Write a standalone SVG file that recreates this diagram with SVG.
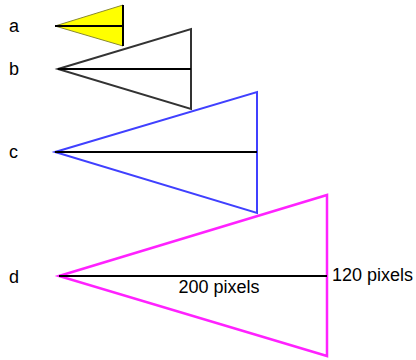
<svg xmlns="http://www.w3.org/2000/svg" width="416" height="360" viewBox="0 0 416 360">
<style>
.lbl{font-family:"Liberation Sans",Arial,sans-serif;font-size:18px;fill:#000}
.mid{stroke:#000;stroke-width:2;fill:none}
</style>
<rect width="416" height="360" fill="#fff"/>
<g id="a">
<polygon points="55,26 123,5 123,46" fill="#ffff00" stroke="#8a8a30" stroke-width="1"/>
<line x1="123" y1="5" x2="123" y2="46" class="mid"/>
<line x1="55" y1="26" x2="123" y2="26" class="mid"/>
<text x="9" y="32" class="lbl">a</text>
</g>
<g id="b">
<polygon points="58,69 191,29 191,109" fill="none" stroke="#333" stroke-width="2"/>
<line x1="58" y1="69" x2="191" y2="69" class="mid"/>
<text x="9" y="75" class="lbl">b</text>
</g>
<g id="c">
<polygon points="55,152 257,92 257,213" fill="none" stroke="#4040ff" stroke-width="2"/>
<line x1="55" y1="152" x2="257" y2="152" class="mid"/>
<text x="9" y="158" class="lbl">c</text>
</g>
<g id="d">
<polygon points="59,276 327,195 327,356" fill="none" stroke="#ff22ff" stroke-width="2.5"/>
<line x1="59" y1="276" x2="327" y2="276" class="mid"/>
<text x="9" y="283" class="lbl">d</text>
<text x="219" y="293" class="lbl" text-anchor="middle">200 pixels</text>
<text x="332" y="281" class="lbl">120 pixels</text>
</g>
</svg>
